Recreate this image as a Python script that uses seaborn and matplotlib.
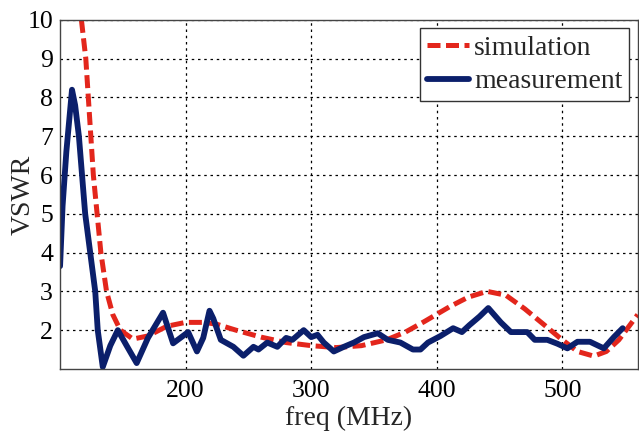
import matplotlib
matplotlib.use("Agg")
import matplotlib.pyplot as plt
import pandas as pd
import seaborn as sns

# simulated VSWR (red dashed)
sim_freq = [117, 120.5, 122.5, 124.5, 126.5, 129.5, 132.5, 137, 142, 148, 158, 170,
            185, 200, 215, 225, 240, 260, 280, 300, 320, 340, 360, 375, 390, 410,
            425, 440, 455, 470, 485, 498, 512, 525, 535, 545, 560]
sim_vswr = [10, 9, 8, 7, 6, 5, 4, 3, 2.4, 2.0, 1.77, 1.85,
            2.1, 2.2, 2.2, 2.15, 2.0, 1.82, 1.68, 1.6, 1.55, 1.6, 1.75, 1.95, 2.22, 2.6,
            2.85, 3.0, 2.9, 2.55, 2.15, 1.8, 1.45, 1.33, 1.45, 1.75, 2.4]

# measured VSWR (navy solid)
meas_freq = [100, 102, 105, 109.5, 112, 115, 117.5, 120, 124, 128, 130, 134, 140, 146,
             153, 161, 170, 182, 190, 202, 209, 214, 219, 222, 228, 238, 246, 254,
             258, 265, 273, 280, 285, 294, 300, 305, 310, 318, 326, 334, 342, 353,
             361, 371, 381, 387, 393, 403, 413, 420, 426, 434, 441, 451, 459, 472,
             478, 488, 496, 504, 512, 522, 533, 541, 548]
meas_vswr = [3.65, 5.2, 6.6, 8.2, 7.8, 7.0, 6.0, 5.0, 4.0, 3.0, 2.0, 1.05, 1.6, 2.0,
             1.6, 1.15, 1.8, 2.45, 1.66, 1.95, 1.45, 1.8, 2.5, 2.3, 1.75, 1.57, 1.34, 1.57,
             1.5, 1.68, 1.57, 1.8, 1.75, 2.0, 1.82, 1.88, 1.68, 1.45, 1.57, 1.68, 1.82, 1.92,
             1.75, 1.68, 1.5, 1.5, 1.68, 1.85, 2.05, 1.95, 2.13, 2.35, 2.57, 2.2, 1.95, 1.95,
             1.75, 1.75, 1.65, 1.53, 1.7, 1.7, 1.53, 1.82, 2.05]

sim = pd.DataFrame({"freq": sim_freq, "vswr": sim_vswr})
meas = pd.DataFrame({"freq": meas_freq, "vswr": meas_vswr})

sns.set_style("white")
plt.rcParams["font.family"] = "serif"
plt.rcParams["font.serif"] = ["Liberation Serif", "DejaVu Serif"]

fig = plt.figure(figsize=(6.39, 4.33), dpi=100)
ax = fig.add_axes([0.094, 0.148, 0.904, 0.806])

sns.lineplot(data=sim, x="freq", y="vswr", ax=ax, color="#e3261c",
             linewidth=3.6, linestyle=(0, (2.6, 1.1)), label="simulation", sort=False)
sns.lineplot(data=meas, x="freq", y="vswr", ax=ax, color="#0b1f6b",
             linewidth=4.2, label="measurement", sort=False)

ax.set_xlim(100, 560)
ax.set_ylim(1, 10)
ax.set_xticks([200, 300, 400, 500])
ax.set_yticks(range(2, 11))
ax.grid(True, color="black", linestyle=(0, (2, 3)), linewidth=0.9)
ax.tick_params(direction="in", length=5, labelsize=18.5, colors="black")
ax.tick_params(axis="x", pad=8)
ax.tick_params(axis="y", pad=5)
for s in ax.spines.values():
    s.set_color("#444444")
    s.set_linewidth(1.0)

ax.set_xlabel("freq (MHz)", fontsize=20, labelpad=3)
ax.set_ylabel("VSWR", fontsize=20)
# matlab-style: label sits close to the axis, overlapping the "10" column
ax.yaxis.set_label_coords(-0.042, 0.5)

leg = ax.legend(loc="upper right", fontsize=20, frameon=True, fancybox=False,
                framealpha=1, edgecolor="#333333", handlelength=1.5,
                handletextpad=0.2, borderpad=0.25, labelspacing=0.3,
                borderaxespad=0.3)
leg.get_frame().set_linewidth(1.0)

fig.savefig("out.png", dpi=100)
